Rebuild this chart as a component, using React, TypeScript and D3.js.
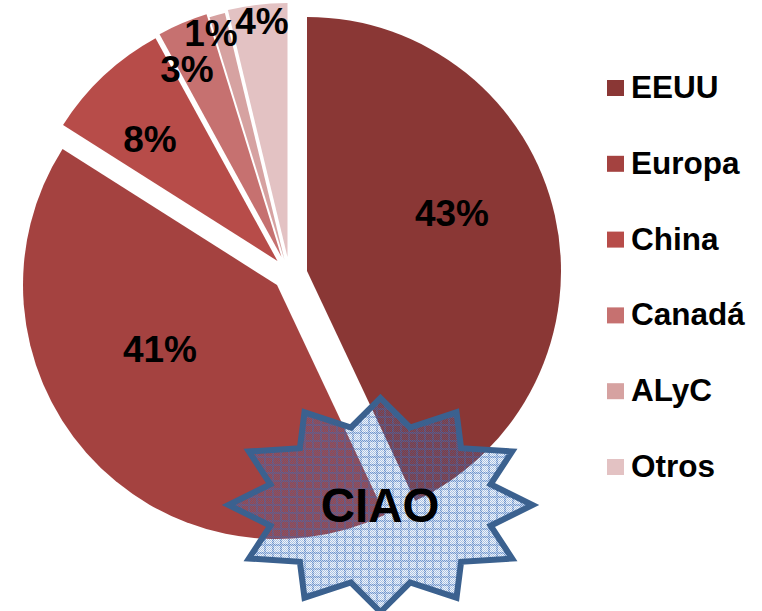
import React from "react";
import * as d3 from "d3";

const categories = ["EEUU", "Europa", "China", "Canadá", "ALyC", "Otros"];
const shares = [43, 41, 8.03, 3.2, 1, 3.77];
const shareLabels = ["43%", "41%", "8%", "3%", "1%", "4%"];
const colours = ["#8A3735", "#A44240", "#B74C49", "#C67170", "#D6A2A1", "#E3C2C3"];
const explodeX = [19.5, -10.5, -10, -6, -3, 0];
const explodeY = [-1, 13, -11, -15, -12, -15];
const labelX = [452, 160, 150, 187, 211, 262];
const labelY = [213, 349, 139, 69, 33, 21];
const calloutText = "CIAO";

const W = 762, H = 611;
const CX = 287.5, CY = 272, R = 254;
const STAR = { cx: 380.5, cy: 505, rx: 152, ry: 107, inner: 0.75, points: 12 };

export default function App() {
  const pie = d3.pie<number>().sort(null).value((d) => d);
  const arc = d3.arc<d3.PieArcDatum<number>>().innerRadius(0).outerRadius(R);
  const arcs = pie(shares);
  const legendY = d3.scalePoint<string>().domain(categories).range([88, 467]);

  const starPts: [number, number][] = d3.range(STAR.points * 2).map((i) => {
    const a = (i * Math.PI) / STAR.points;
    const k = i % 2 === 0 ? 1 : STAR.inner;
    return [STAR.cx + Math.sin(a) * STAR.rx * k, STAR.cy - Math.cos(a) * STAR.ry * k];
  });
  const starPath = d3.line()(starPts) + "Z";
  const cells = d3.cross(d3.range(8), d3.range(8));

  return (
    <svg width={W} height={H} style={{ position: "absolute", left: 0, top: 0, display: "block", fontFamily: "'Liberation Sans', Arial, sans-serif" }}>
      <defs>
        <pattern id="plaid" width="8" height="8" patternUnits="userSpaceOnUse">
          <rect width="8" height="8" fill="#3A70BD" fillOpacity="0.08" />
          {cells.map(([x, y]) => {
            const grid = x < 2 || y < 2;
            const on = (x + y) % 2 === 0;
            return on ? (
              <rect key={`${x}-${y}`} x={x} y={y} width={1} height={1} fill="#3A70BD" fillOpacity={grid ? 0.7 : 0.38} />
            ) : grid ? (
              <rect key={`${x}-${y}`} x={x} y={y} width={1} height={1} fill="#3A70BD" fillOpacity={0.2} />
            ) : null;
          })}
        </pattern>
      </defs>
      <rect width={W} height={H} fill="#fff" />
      {arcs.map((d, i) => (
        <path key={categories[i]} d={arc(d) || ""} fill={colours[i]} transform={`translate(${CX + explodeX[i]},${CY + explodeY[i]})`} />
      ))}
      {arcs.map((d, i) => (
        <text key={i} x={labelX[i]} y={labelY[i] + 13} textAnchor="middle" fontSize={37} fontWeight={700} fill="#000">{shareLabels[i]}</text>
      ))}
      {categories.map((c, i) => (
        <g key={c}>
          <rect x={607} y={(legendY(c) as number) - 8} width={17} height={16} fill={colours[i]} />
          <text x={631} y={(legendY(c) as number) + 10} fontSize={31.5} fontWeight={700} fill="#000">{c}</text>
        </g>
      ))}
      <path d={starPath} fill="url(#plaid)" stroke="#3B618F" strokeWidth={6} strokeLinejoin="miter" />
      <text x={380} y={522} textAnchor="middle" fontSize={47.5} fontWeight={700} fill="#000">{calloutText}</text>
    </svg>
  );
}
